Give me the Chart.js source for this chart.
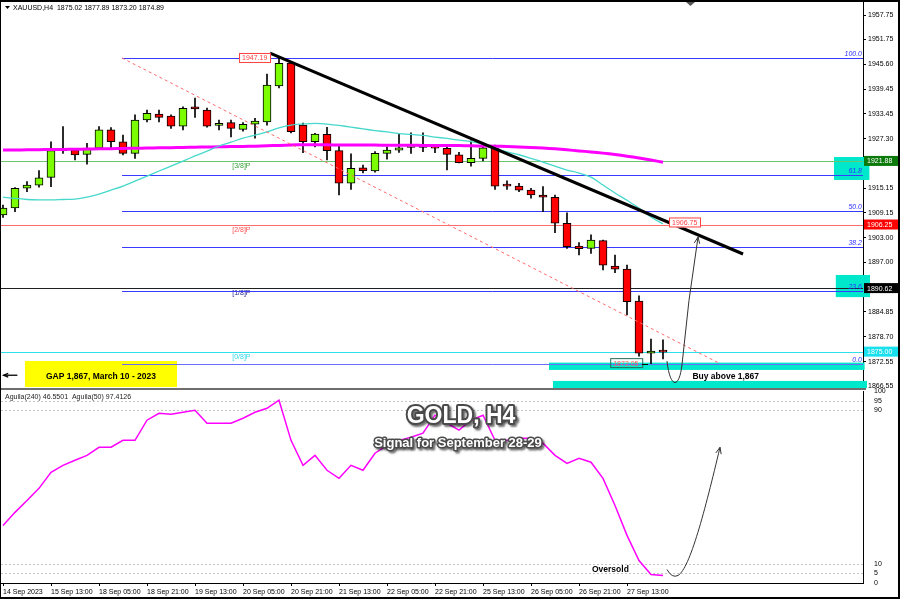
<!DOCTYPE html>
<html>
<head>
<meta charset="utf-8">
<script src="https://cdn.jsdelivr.net/npm/chart.js@4.4.0/dist/chart.umd.min.js"></script>
<style>
  body { margin: 0; background: #fff; }
  #wrap { position: relative; width: 900px; height: 599px; overflow: hidden; background: #fff; }
  #main { position: absolute; left: 0; top: 0; }
  #osc { position: absolute; left: 0; top: 384px; }
  #frame { position: absolute; left: 0; top: 0; width: 897px; height: 595px;
           border: solid #000; border-width: 2px 2px 2px 1px; pointer-events: none; }
</style>
</head>
<body>
<div id="wrap">
  <canvas id="main" width="900" height="390"></canvas>
  <canvas id="osc" width="900" height="215"></canvas>
  <div id="frame"></div>
</div>
<script>
// ---- data (XAUUSD H4, 56 bars) ----
const xLabels = ['14 Sep 2023', '15 Sep 13:00', '18 Sep 05:00', '18 Sep 21:00', '19 Sep 13:00',
  '20 Sep 05:00', '20 Sep 21:00', '21 Sep 13:00', '22 Sep 05:00', '22 Sep 21:00',
  '25 Sep 13:00', '26 Sep 05:00', '26 Sep 21:00', '27 Sep 13:00'];
const labelBars = [0, 4, 8, 12, 16, 20, 24, 28, 32, 36, 40, 44, 48, 52];

const opens = [1908.6, 1910.3, 1915.2, 1915.95, 1917.85, 1924.4, 1924.6, 1923.5, 1925.0, 1929.5,
  1926.6, 1923.75, 1931.95, 1933.4, 1932.9, 1930.45, 1935.2, 1934.4, 1930.6, 1931.3,
  1929.65, 1930.9, 1931.45, 1940.3, 1945.95, 1930.7, 1926.6, 1928.45, 1924.4, 1916.4,
  1920.2, 1919.4, 1923.75, 1924.55, 1925.2, 1925.95, 1925.4, 1925.0, 1923.35, 1921.45,
  1922.5, 1925.0, 1915.8, 1915.7, 1914.7, 1913.5, 1912.95, 1906.55, 1900.95, 1900.4,
  1902.3, 1896.05, 1895.3, 1887.45, 1874.6, 1875.02];
const highs = [1911.0, 1915.3, 1916.8, 1919.5, 1926.6, 1930.3, 1924.8, 1926.2, 1930.3, 1930.1,
  1928.25, 1933.2, 1934.4, 1934.4, 1933.2, 1935.2, 1937.35, 1934.9, 1931.95, 1931.95,
  1931.3, 1932.35, 1943.25, 1947.19, 1946.0, 1931.2, 1928.65, 1930.15, 1925.8, 1923.6,
  1920.85, 1924.15, 1925.35, 1928.5, 1928.8, 1928.8, 1925.6, 1925.8, 1924.0, 1926.85,
  1926.0, 1925.8, 1917.0, 1916.4, 1915.15, 1915.6, 1913.5, 1909.15, 1901.8, 1903.7,
  1902.45, 1898.75, 1896.25, 1888.7, 1878.1, 1877.89];
const lows = [1908.0, 1909.4, 1914.3, 1915.4, 1915.55, 1923.75, 1922.1, 1921.1, 1924.8, 1924.75,
  1923.35, 1922.5, 1931.5, 1931.5, 1929.9, 1929.5, 1932.6, 1930.2, 1929.5, 1927.8,
  1929.2, 1927.45, 1930.7, 1939.8, 1928.75, 1923.9, 1925.35, 1922.1, 1913.5, 1914.9,
  1918.95, 1919.1, 1922.3, 1924.0, 1923.75, 1924.15, 1923.9, 1919.65, 1921.4, 1920.6,
  1921.9, 1914.9, 1914.9, 1914.3, 1912.7, 1909.4, 1904.25, 1900.4, 1898.75, 1899.15,
  1895.1, 1894.4, 1884.0, 1873.9, 1872.05, 1873.2];
const closes = [1910.3, 1915.15, 1915.95, 1917.75, 1924.4, 1924.5, 1923.35, 1925.0, 1929.5, 1926.6,
  1923.75, 1931.95, 1933.6, 1932.6, 1930.45, 1934.8, 1934.65, 1930.45, 1931.1, 1929.9,
  1930.9, 1931.7, 1940.5, 1945.9, 1929.05, 1926.6, 1928.5, 1924.4, 1916.4, 1920.05,
  1919.5, 1923.75, 1924.55, 1925.1, 1925.95, 1925.2, 1925.0, 1923.5, 1921.45, 1922.5,
  1925.1, 1915.7, 1915.7, 1914.7, 1913.5, 1912.95, 1906.55, 1900.8, 1900.3, 1902.45,
  1896.25, 1895.3, 1887.3, 1874.6, 1875.15, 1874.89];

const maFast = [1913.0, 1912.65, 1912.4, 1912.3, 1912.3, 1912.4, 1912.5, 1913.0, 1913.75, 1914.7,
  1915.7, 1916.9, 1918.15, 1919.4, 1920.6, 1921.85, 1923.1, 1924.3, 1925.55, 1926.5,
  1927.5, 1928.25, 1929.0, 1930.0, 1930.7, 1930.95, 1931.1, 1930.95, 1930.6, 1930.2,
  1929.75, 1929.35, 1929.0, 1928.6, 1928.4, 1928.15, 1927.75, 1927.4, 1927.0, 1926.65,
  1926.05, 1925.05, 1924.1, 1923.4, 1922.5, 1921.6, 1920.6, 1919.65, 1918.9, 1917.9,
  1915.95, 1914.0, 1912.2, 1910.3, 1908.1, 1906.4];
const maSlow = [1924.55, 1924.58, 1924.6, 1924.65, 1924.68, 1924.72, 1924.75, 1924.8, 1924.85, 1924.9,
  1924.95, 1925.0, 1925.05, 1925.1, 1925.15, 1925.2, 1925.25, 1925.3, 1925.35, 1925.4,
  1925.45, 1925.5, 1925.6, 1925.7, 1925.8, 1925.85, 1925.85, 1925.85, 1925.8, 1925.8,
  1925.8, 1925.78, 1925.75, 1925.75, 1925.72, 1925.7, 1925.7, 1925.68, 1925.65, 1925.6,
  1925.55, 1925.5, 1925.42, 1925.32, 1925.2, 1925.05, 1924.85, 1924.6, 1924.35, 1924.1,
  1923.8, 1923.45, 1923.05, 1922.6, 1922.1, 1921.55];

const aguila = [30, 36.8, 43, 49.3, 57.6, 61.3, 63.9, 66.5, 70.7, 70.7,
  74.3, 74.3, 84.8, 88.4, 87.9, 88.9, 90, 83.2, 83.2, 83.2,
  85.8, 88.9, 91, 95.2, 74.3, 61.3, 66.5, 58.7, 54.5, 61.3,
  58.7, 67.6, 71.7, 74.3, 75.9, 78, 87.4, 83.2, 79.6, 84.8,
  87.4, 74.3, 74.3, 75.4, 75.4, 72.8, 66.5, 62.3, 64.9, 62.9,
  54.5, 40.4, 24.8, 11.7, 4.4, 3.9];

const priceTicks = [1957.75, 1951.75, 1945.60, 1939.45, 1933.45, 1927.30, 1915.15,
  1909.15, 1903.00, 1897.00, 1884.85, 1878.70, 1872.55, 1866.55];
const oscTicks = [100, 95, 90, 10, 5, 0];
const oscGrid = [95, 90, 10, 5];

// Murrey math levels
const murreyNames = ['[3/8]P', '[2/8]P', '[1/8]P', '[0/8]P'];
const murreyLevels = [1921.88, 1906.25, 1890.62, 1875.00];
// Fibonacci retracement 1947.19 -> 1872.05
const fibHigh = 1947.19, fibLow = 1872.05, fibFromBar = 9.92, fibToBar = 59.75;
const fibRatios = [100.0, 61.8, 50.0, 38.2, 23.6, 0.0];
// hand-drawn trend line (bar, price)
const trendBars = [22.25, 61.67];
const trendPrices = [1948.4, 1899.0];
// highlight zones: [barFrom, barTo] and [priceLow, priceHigh]
const zoneBars = [[45.5, 71.8], [45.83, 72.0], [69.25, 72.2], [69.4, 72.25]];
const zonePrices = [[1870.5, 1872.3], [1866.0, 1867.8], [1917.2, 1922.85], [1888.4, 1893.85]];
const gapBars = [1.83, 14.5], gapPrices = [1866.3, 1872.7];

const X_MIN = -2 / 12, X_MAX = -2 / 12 + 862 / 12;
const FONT = '"Liberation Sans", Arial, sans-serif';
const CYAN_BOX = '#00e8cc';

Chart.defaults.font.family = FONT;
Chart.defaults.animation = false;

function arrowHead(ctx, fx, fy, tx, ty, len) {
  const ang = Math.atan2(ty - fy, tx - fx);
  ctx.beginPath();
  ctx.moveTo(tx - len * Math.cos(ang - 0.4), ty - len * Math.sin(ang - 0.4));
  ctx.lineTo(tx, ty);
  ctx.lineTo(tx - len * Math.cos(ang + 0.4), ty - len * Math.sin(ang + 0.4));
  ctx.stroke();
}

function boxLabel(ctx, text, x, y, w, bg, border, color) {
  ctx.font = '7px ' + FONT;
  if (bg) { ctx.fillStyle = bg; ctx.fillRect(x, y - 5, w, 10); }
  if (border) { ctx.strokeStyle = border; ctx.lineWidth = 1; ctx.strokeRect(x + 0.5, y - 4.5, w - 1, 9); }
  ctx.fillStyle = color;
  ctx.textAlign = 'left'; ctx.textBaseline = 'middle';
  ctx.fillText(text, x + 3, y + 0.5);
}

// no extra room for edge labels, the plot must fill the panel
function fixV(s) { s.width = 37; s.paddingTop = 0; s.paddingBottom = 0; }
function fixH(s) { s.height = 16; s.paddingLeft = 0; s.paddingRight = 0; }

const mainDeco = {
  id: 'mainDeco',
  beforeDatasetsDraw(c) {
    const { ctx, chartArea: a, scales: { x, y } } = c;
    const px = v => x.getPixelForValue(v), py = v => y.getPixelForValue(v);
    ctx.save();
    ctx.fillStyle = CYAN_BOX;
    zoneBars.forEach((b, k) => {
      const y1 = py(zonePrices[k][1]), y0 = py(zonePrices[k][0]);
      ctx.fillRect(px(b[0]), y1, px(b[1]) - px(b[0]), y0 - y1);
    });
    ctx.fillStyle = '#ffff00';
    const gy1 = py(gapPrices[1]), gy0 = py(gapPrices[0]);
    ctx.fillRect(px(gapBars[0]), gy1, px(gapBars[1]) - px(gapBars[0]), gy0 - gy1);

    const mCol = ['#6cc46c', '#ff6a6a', '#202020', '#2fe0ea'];
    const mTxt = ['#3aa03a', '#ff5050', '#1c1c8c', '#2fd8e8'];
    murreyLevels.forEach((v, k) => {
      const yy = Math.round(py(v)) + 0.5;
      ctx.strokeStyle = mCol[k]; ctx.lineWidth = 1;
      ctx.beginPath(); ctx.moveTo(a.left, yy); ctx.lineTo(a.right, yy); ctx.stroke();
      ctx.font = '7px ' + FONT; ctx.fillStyle = mTxt[k];
      ctx.textAlign = 'left'; ctx.textBaseline = 'top';
      ctx.fillText(murreyNames[k], px(19.1), yy + 1);
    });
    fibRatios.forEach(r => {
      const v = fibLow + (fibHigh - fibLow) * r / 100;
      const yy = Math.round(py(v)) + 0.5;
      ctx.strokeStyle = r === 0 ? '#6a6aff' : '#3a3aff'; ctx.lineWidth = 1;
      ctx.beginPath(); ctx.moveTo(px(fibFromBar), yy); ctx.lineTo(a.right, yy); ctx.stroke();
      ctx.font = 'italic 7px ' + FONT; ctx.fillStyle = '#3030ff';
      ctx.textAlign = 'right'; ctx.textBaseline = 'bottom';
      ctx.fillText(r.toFixed(1), a.right - 1, yy - 1);
    });
    ctx.restore();
  },
  afterDatasetsDraw(c) {
    const { ctx, chartArea: a, scales: { x, y } } = c;
    const px = v => x.getPixelForValue(v), py = v => y.getPixelForValue(v);
    ctx.save();
    boxLabel(ctx, '1947.19', px(19.67), py(1947.19), 32, '#ffffff', '#ff4040', '#ff4040');
    boxLabel(ctx, '1906.75', px(55.5), py(1906.75), 32, '#ffffff', '#ff4040', '#ff4040');
    boxLabel(ctx, '1872.05', px(50.6), py(1872.05) - 0.5, 33, null, '#2a6a5a', '#ff6060');
    ctx.strokeStyle = '#000'; ctx.lineWidth = 1;
    ctx.beginPath(); ctx.moveTo(px(53.25), Math.round(py(1872.05)) + 0.5);
    ctx.lineTo(px(53.75), Math.round(py(1872.05)) + 0.5); ctx.stroke();

    ctx.fillStyle = '#000'; ctx.font = 'bold 8.5px ' + FONT;
    ctx.textAlign = 'center'; ctx.textBaseline = 'middle';
    ctx.fillText('GAP 1,867, March 10 - 2023', (px(gapBars[0]) + px(gapBars[1])) / 2, py(1869.0) + 1);
    ctx.strokeStyle = '#000'; ctx.lineWidth = 1.3;
    const ay = py(1869.2);
    ctx.beginPath(); ctx.moveTo(px(1.2), ay); ctx.lineTo(px(0.05), ay); ctx.stroke();
    arrowHead(ctx, px(1.2), ay, px(0.05), ay, 5);

    ctx.font = 'bold 8.5px ' + FONT; ctx.textAlign = 'left';
    ctx.fillText('Buy above 1,867', px(57.45), py(1868.9));

    ctx.strokeStyle = '#333'; ctx.lineWidth = 1;
    ctx.beginPath();
    ctx.moveTo(px(55.33), py(1872.7));
    ctx.bezierCurveTo(px(55.58), py(1866.06), px(56.33), py(1865.57), px(56.58), py(1871.71));
    ctx.quadraticCurveTo(px(57.08), py(1887.69), px(57.92), py(1903.18));
    ctx.stroke();
    arrowHead(ctx, px(57.08), py(1887.69), px(57.92), py(1903.18), 7);

    ctx.fillStyle = '#000';
    ctx.beginPath(); ctx.moveTo(5, 6); ctx.lineTo(10, 6); ctx.lineTo(7.5, 9); ctx.closePath(); ctx.fill();
    ctx.font = '7px ' + FONT; ctx.textAlign = 'left'; ctx.textBaseline = 'middle';
    ctx.fillText('XAUUSD,H4  1875.02 1877.89 1873.20 1874.89', 13, 8);
    ctx.fillStyle = '#555';
    ctx.beginPath(); ctx.moveTo(686, 2); ctx.lineTo(695, 2); ctx.lineTo(690.5, 6); ctx.closePath(); ctx.fill();
    ctx.restore();
  },
  afterDraw(c) {
    const { ctx, chartArea: a, scales: { y } } = c;
    ctx.save();
    const tags = [[1921.88, '#0b7a0b'], [1906.25, '#ff0000'], [1890.62, '#000000'], [1875.00, '#19e0ee']];
    tags.forEach(t => boxLabel(ctx, t[0].toFixed(2), a.right + 1, y.getPixelForValue(t[0]), 34, t[1], null, '#ffffff'));
    ctx.fillStyle = '#6e6e6e';
    ctx.fillRect(0, a.bottom, a.right + 3, 2);
    ctx.restore();
  }
};

const mainChart = new Chart(document.getElementById('main'), {
  type: 'bar',
  data: {
    datasets: [
      {
        type: 'line', label: 'trend', order: 0,
        data: trendBars.map((b, k) => ({ x: b, y: trendPrices[k] })),
        borderColor: '#000', borderWidth: 3, pointRadius: 0
      },
      {
        type: 'line', label: 'fib', order: 1,
        data: [{ x: fibFromBar, y: fibHigh }, { x: fibToBar, y: fibLow }],
        borderColor: '#ff6a6a', borderWidth: 1, borderDash: [3, 3], pointRadius: 0
      },
      {
        type: 'line', label: 'MA fast', order: 2,
        data: maFast.map((v, i) => ({ x: i, y: v })),
        borderColor: '#46d8cc', borderWidth: 1.3, pointRadius: 0, tension: 0.35
      },
      {
        type: 'line', label: 'MA slow', order: 3,
        data: maSlow.map((v, i) => ({ x: i, y: v })),
        borderColor: '#ff00ff', borderWidth: 3, pointRadius: 0, tension: 0.35
      },
      {
        type: 'bar', label: 'body', order: 4,
        data: opens.map((o, i) => ({ x: i, y: [o, closes[i]] })),
        backgroundColor: opens.map((o, i) => closes[i] >= o ? '#7cfc00' : '#ff0000'),
        borderColor: '#000', borderWidth: 1, borderSkipped: false,
        barThickness: 8, minBarLength: 2, grouped: false
      },
      {
        type: 'bar', label: 'wick', order: 5,
        data: lows.map((l, i) => ({ x: i, y: [l, highs[i]] })),
        backgroundColor: '#000', borderWidth: 0, barThickness: 1, grouped: false
      }
    ]
  },
  options: {
    responsive: false,
    devicePixelRatio: 1,
    layout: { padding: { left: 1, top: 2, bottom: 2, right: 0 } },
    plugins: { legend: { display: false }, tooltip: { enabled: false } },
    scales: {
      x: { type: 'linear', min: X_MIN, max: X_MAX, display: false, offset: false },
      y: {
        position: 'right', min: 1866.06, max: 1960.95,
        afterFit: fixV,
        afterBuildTicks: s => { s.ticks = priceTicks.map(v => ({ value: v })); },
        ticks: { autoSkip: false, color: '#000', padding: 2, font: { size: 7 }, callback: v => Number(v).toFixed(2) },
        grid: { drawOnChartArea: false, drawTicks: true, tickLength: 3, color: '#000' },
        border: { color: '#000' }
      }
    }
  },
  plugins: [mainDeco]
});

const OSC_TOP = 384;
const oscDeco = {
  id: 'oscDeco',
  beforeDatasetsDraw(c) {
    const { ctx, chartArea: a, scales: { y } } = c;
    ctx.save();
    ctx.strokeStyle = '#c4c4c4'; ctx.lineWidth = 1; ctx.setLineDash([2, 2]);
    oscGrid.forEach(v => {
      const yy = Math.round(y.getPixelForValue(v)) + 0.5;
      ctx.beginPath(); ctx.moveTo(a.left, yy); ctx.lineTo(a.right, yy); ctx.stroke();
    });
    ctx.restore();
  },
  afterDatasetsDraw(c) {
    const { ctx, chartArea: a, scales: { x, y } } = c;
    const px = v => x.getPixelForValue(v), py = v => y.getPixelForValue(v);
    ctx.save();
    ctx.fillStyle = '#222'; ctx.font = '7px ' + FONT;
    ctx.textAlign = 'left'; ctx.textBaseline = 'middle';
    ctx.fillText('Aguila(240) 46.5501  Aguila(50) 97.4126', 5, 397 - OSC_TOP);

    const fancy = (txt, cx, cy, size) => {
      ctx.font = 'bold ' + size + 'px ' + FONT;
      ctx.textAlign = 'center'; ctx.textBaseline = 'middle';
      ctx.shadowColor = 'rgba(0,0,0,0.55)'; ctx.shadowOffsetX = 2; ctx.shadowOffsetY = 2; ctx.shadowBlur = 2;
      ctx.lineJoin = 'round';
      ctx.strokeStyle = '#4a4a4a'; ctx.lineWidth = size > 15 ? 4 : 3;
      ctx.strokeText(txt, cx, cy);
      ctx.shadowColor = 'transparent';
      ctx.fillStyle = '#ffffff';
      ctx.fillText(txt, cx, cy);
    };
    fancy('GOLD, H4', 461, 417 - OSC_TOP, 23);
    fancy('Signal for September 28-29', 458, 443 - OSC_TOP, 13);

    ctx.fillStyle = '#000'; ctx.font = 'bold 8.5px ' + FONT;
    ctx.textAlign = 'left'; ctx.textBaseline = 'middle';
    ctx.fillText('Oversold', 592, 570 - OSC_TOP);

    ctx.strokeStyle = '#333'; ctx.lineWidth = 1;
    ctx.beginPath();
    ctx.moveTo(px(55.33), py(7.04));
    ctx.quadraticCurveTo(px(55.75), py(2.35), px(56.25), py(3.91));
    ctx.bezierCurveTo(px(57.25), py(7.56), px(58.5), py(37.82), px(59.75), py(70.68));
    ctx.stroke();
    arrowHead(ctx, px(58.5), py(37.82), px(59.75), py(70.68), 7);
    ctx.restore();
  }
};

const oscChart = new Chart(document.getElementById('osc'), {
  type: 'line',
  data: {
    datasets: [{
      label: 'Aguila',
      data: aguila.map((v, i) => ({ x: i, y: v })),
      borderColor: '#ff00ff', borderWidth: 1.5, pointRadius: 0, tension: 0
    }]
  },
  options: {
    responsive: false,
    devicePixelRatio: 1,
    layout: { padding: { left: 1, top: 7, bottom: 0, right: 0 } },
    plugins: { legend: { display: false }, tooltip: { enabled: false } },
    scales: {
      x: {
        type: 'linear', min: X_MIN, max: X_MAX, offset: false,
        afterFit: fixH,
        afterBuildTicks: s => { s.ticks = labelBars.map(v => ({ value: v })); },
        ticks: {
          autoSkip: false, maxRotation: 0, align: 'start', padding: 2, color: '#000',
          font: { size: 7 }, callback: v => xLabels[labelBars.indexOf(v)]
        },
        grid: { drawOnChartArea: false, drawTicks: true, tickLength: 3, color: '#000' },
        border: { color: '#000' }
      },
      y: {
        position: 'right', min: 0, max: 100,
        afterFit: fixV,
        afterBuildTicks: s => { s.ticks = oscTicks.map(v => ({ value: v })); },
        ticks: { autoSkip: false, color: '#000', padding: 3, font: { size: 7 } },
        grid: { display: false },
        border: { color: '#000' }
      }
    }
  },
  plugins: [oscDeco]
});
</script>
</body>
</html>
